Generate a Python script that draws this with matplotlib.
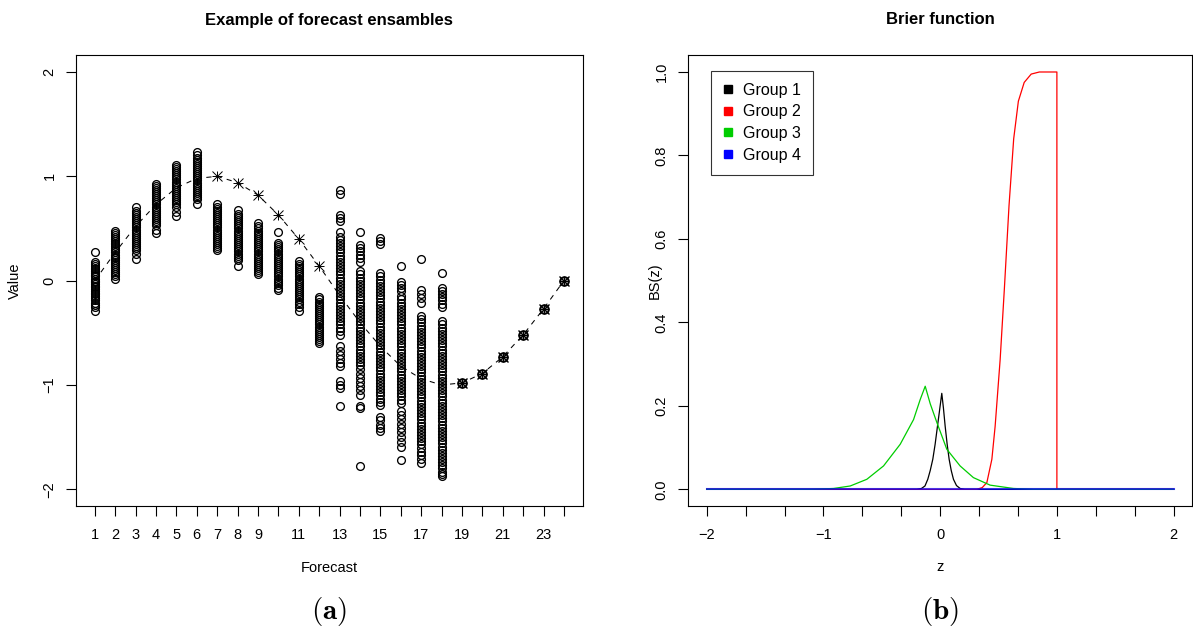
import matplotlib

matplotlib.use("Agg")
import matplotlib.pyplot as plt  # noqa: E402
from matplotlib.lines import Line2D  # noqa: E402

plt.rcParams.update(
    {
        "font.family": ["Liberation Sans", "DejaVu Sans"],
        "font.size": 10.5,
        "mathtext.fontset": "cm",
        "axes.linewidth": 0.8,
        "xtick.major.width": 0.8,
        "ytick.major.width": 0.8,
        "xtick.major.size": 7,
        "ytick.major.size": 7,
        "xtick.major.pad": 9,
        "ytick.major.pad": 7,
    }
)

# ---- panel (a): forecast ensembles ----
forecast = list(range(1, 25))
truth = [0.00, 0.27, 0.52, 0.73, 0.89, 0.98, 1.00, 0.94, 0.82, 0.63, 0.40, 0.14,
         -0.14, -0.40, -0.63, -0.82, -0.94, -1.00, -0.98, -0.89, -0.73, -0.52, -0.27, 0.00]
star_steps = [7, 8, 9, 10, 11, 12]
known_steps = [19, 20, 21, 22, 23, 24]

ens = [
    [0.27, 0.18, 0.16, 0.14, 0.12, 0.11, 0.09, 0.07, 0.05, 0.04, 0.02, 0.00, -0.01, -0.03,
     -0.05, -0.06, -0.08, -0.10, -0.12, -0.13, -0.15, -0.17, -0.19, -0.21, -0.23, -0.25, -0.29],
    [0.48, 0.46, 0.44, 0.42, 0.40, 0.38, 0.36, 0.35, 0.33, 0.31, 0.29, 0.27, 0.25, 0.23,
     0.22, 0.20, 0.18, 0.16, 0.14, 0.12, 0.10, 0.08, 0.06, 0.04, 0.02],
    [0.71, 0.67, 0.65, 0.63, 0.61, 0.59, 0.57, 0.55, 0.53, 0.51, 0.49, 0.47, 0.45, 0.43,
     0.41, 0.39, 0.37, 0.35, 0.33, 0.31, 0.29, 0.26, 0.21],
    [0.93, 0.91, 0.89, 0.87, 0.85, 0.83, 0.81, 0.79, 0.77, 0.75, 0.73, 0.71, 0.69, 0.67,
     0.65, 0.63, 0.61, 0.59, 0.57, 0.55, 0.53, 0.49, 0.46],
    [1.11, 1.09, 1.07, 1.05, 1.03, 1.01, 0.99, 0.97, 0.95, 0.93, 0.91, 0.89, 0.87, 0.85,
     0.83, 0.81, 0.79, 0.77, 0.75, 0.73, 0.71, 0.66, 0.62],
    [1.23, 1.20, 1.18, 1.16, 1.14, 1.12, 1.10, 1.08, 1.06, 1.04, 1.02, 1.00, 0.98, 0.96,
     0.94, 0.92, 0.90, 0.88, 0.86, 0.84, 0.82, 0.80, 0.78, 0.73],
    [0.73, 0.71, 0.69, 0.67, 0.65, 0.63, 0.61, 0.59, 0.57, 0.55, 0.53, 0.51, 0.49, 0.47,
     0.45, 0.43, 0.41, 0.39, 0.37, 0.35, 0.33, 0.31, 0.29],
    [0.68, 0.64, 0.62, 0.60, 0.58, 0.56, 0.54, 0.52, 0.50, 0.48, 0.46, 0.44, 0.42, 0.40,
     0.38, 0.36, 0.34, 0.32, 0.30, 0.28, 0.26, 0.24, 0.22, 0.20, 0.14],
    [0.55, 0.52, 0.50, 0.48, 0.46, 0.44, 0.42, 0.40, 0.38, 0.36, 0.34, 0.32, 0.30, 0.28,
     0.26, 0.24, 0.22, 0.20, 0.18, 0.16, 0.14, 0.12, 0.10, 0.08, 0.06],
    [0.47, 0.36, 0.34, 0.32, 0.30, 0.28, 0.26, 0.24, 0.22, 0.20, 0.18, 0.16, 0.14, 0.12,
     0.10, 0.08, 0.06, 0.04, 0.02, 0.00, -0.02, -0.04, -0.07, -0.09],
    [0.19, 0.16, 0.14, 0.12, 0.10, 0.08, 0.06, 0.04, 0.02, 0.00, -0.02, -0.04, -0.06, -0.08,
     -0.10, -0.12, -0.14, -0.16, -0.18, -0.20, -0.22, -0.25, -0.29],
    [-0.16, -0.18, -0.20, -0.22, -0.24, -0.26, -0.28, -0.30, -0.32, -0.34, -0.36, -0.38,
     -0.40, -0.42, -0.44, -0.46, -0.48, -0.50, -0.52, -0.54, -0.56, -0.58, -0.60],
    [0.87, 0.83, 0.63, 0.60, 0.57, 0.47, 0.42, 0.39, 0.36, 0.33, 0.30, 0.27, 0.24, 0.21,
     0.18, 0.15, 0.12, 0.09, 0.06, 0.03, 0.00, -0.03, -0.06, -0.09, -0.12, -0.15, -0.18,
     -0.21, -0.24, -0.27, -0.30, -0.33, -0.36, -0.39, -0.42, -0.45, -0.48, -0.52, -0.63,
     -0.67, -0.71, -0.75, -0.79, -0.82, -0.96, -1.00, -1.03, -1.20],
    [0.47, 0.34, 0.31, 0.28, 0.25, 0.22, 0.18, 0.09, 0.06, 0.03, 0.00, -0.03, -0.06, -0.09,
     -0.12, -0.15, -0.18, -0.21, -0.24, -0.27, -0.30, -0.33, -0.36, -0.39, -0.42, -0.45,
     -0.48, -0.51, -0.54, -0.57, -0.60, -0.63, -0.66, -0.69, -0.72, -0.75, -0.78, -0.81,
     -0.85, -0.89, -0.93, -0.97, -1.01, -1.05, -1.10, -1.20, -1.22, -1.78],
    [0.41, 0.38, 0.35, 0.07, 0.04, 0.01, -0.02, -0.05, -0.08, -0.11, -0.14, -0.17, -0.20,
     -0.23, -0.26, -0.29, -0.32, -0.35, -0.38, -0.41, -0.44, -0.47, -0.50, -0.53, -0.56,
     -0.59, -0.62, -0.65, -0.68, -0.71, -0.74, -0.77, -0.80, -0.83, -0.86, -0.89, -0.92,
     -0.95, -0.98, -1.01, -1.04, -1.07, -1.10, -1.13, -1.16, -1.19, -1.31, -1.34, -1.38,
     -1.41, -1.44],
    [0.14, -0.01, -0.04, -0.07, -0.10, -0.15, -0.18, -0.21, -0.24, -0.27, -0.30, -0.33,
     -0.36, -0.39, -0.42, -0.45, -0.48, -0.51, -0.54, -0.57, -0.60, -0.63, -0.66, -0.69,
     -0.72, -0.75, -0.78, -0.81, -0.84, -0.87, -0.90, -0.93, -0.96, -0.99, -1.02, -1.05,
     -1.08, -1.11, -1.14, -1.17, -1.25, -1.29, -1.33, -1.37, -1.41, -1.45, -1.50, -1.55,
     -1.59, -1.72],
    [0.21, -0.09, -0.13, -0.17, -0.21, -0.34, -0.37, -0.40, -0.43, -0.46, -0.49, -0.52,
     -0.55, -0.58, -0.61, -0.64, -0.67, -0.70, -0.73, -0.76, -0.79, -0.82, -0.85, -0.88,
     -0.91, -0.94, -0.97, -1.00, -1.03, -1.06, -1.09, -1.12, -1.15, -1.18, -1.21, -1.24,
     -1.27, -1.30, -1.33, -1.36, -1.39, -1.42, -1.45, -1.48, -1.51, -1.54, -1.57, -1.60,
     -1.64, -1.67, -1.71, -1.75],
    [0.07, -0.07, -0.10, -0.13, -0.16, -0.19, -0.22, -0.25, -0.39, -0.42, -0.45, -0.48,
     -0.51, -0.54, -0.57, -0.60, -0.63, -0.66, -0.69, -0.72, -0.75, -0.78, -0.81, -0.84,
     -0.87, -0.90, -0.93, -0.96, -0.99, -1.02, -1.05, -1.08, -1.11, -1.14, -1.17, -1.20,
     -1.23, -1.26, -1.29, -1.32, -1.35, -1.38, -1.41, -1.44, -1.47, -1.50, -1.53, -1.56,
     -1.59, -1.62, -1.65, -1.68, -1.71, -1.74, -1.77, -1.80, -1.83, -1.85, -1.87],
]

a_xticks = list(range(1, 25))
a_xlabels = ["1", "2", "3", "4", "5", "6", "7", "8", "9", "", "11", "", "13", "", "15", "",
             "17", "", "19", "", "21", "", "23", ""]
a_yticks = [-2, -1, 0, 1, 2]

# ---- panel (b): Brier function ----
g1_z = [-2.0, -0.20, -0.16, -0.13, -0.106, -0.085, -0.063, -0.043, -0.023, 0.0, 0.014,
        0.028, 0.043, 0.06, 0.077, 0.095, 0.114, 0.14, 0.171, 0.21, 2.0]
g1_bs = [0, 0, 0.002, 0.008, 0.024, 0.045, 0.072, 0.108, 0.151, 0.200, 0.230, 0.195,
         0.151, 0.108, 0.072, 0.045, 0.024, 0.009, 0.002, 0, 0]
g2_z = [-2.0, 0.314, 0.36, 0.40, 0.443, 0.471, 0.514, 0.55, 0.59, 0.63, 0.67, 0.72, 0.78,
        0.85, 1.0, 1.0, 2.0]
g2_bs = [0, 0, 0.004, 0.016, 0.072, 0.151, 0.311, 0.48, 0.68, 0.84, 0.93, 0.975, 0.995,
         1.0, 1.0, 0, 0]
g3_z = [-2.0, -1.1, -0.913, -0.77, -0.628, -0.485, -0.342, -0.228, -0.171, -0.128, -0.085,
        -0.028, 0.057, 0.171, 0.285, 0.428, 0.628, 0.8, 2.0]
g3_bs = [0, 0, 0.002, 0.008, 0.024, 0.056, 0.108, 0.167, 0.215, 0.247, 0.205, 0.160, 0.096,
         0.056, 0.028, 0.010, 0.002, 0, 0]
g4_z = [-2.0, 2.0]
g4_bs = [0, 0]
groups = ["Group 1", "Group 2", "Group 3", "Group 4"]
colors = ["black", "#ff0000", "#00cd00", "#0000ff"]
b_xticks = [-2 + k / 3 for k in range(13)]
b_xlabels = ["\u22122", "", "", "\u22121", "", "", "0", "", "", "1", "", "", "2"]
b_yticks = [0.0, 0.2, 0.4, 0.6, 0.8, 1.0]

W, H = 1193, 639
fig = plt.figure(figsize=(W / 100, H / 100), dpi=100)


def px(x0, y0, x1, y1):
    return [x0 / W, 1 - y1 / H, (x1 - x0) / W, (y1 - y0) / H]


ax = fig.add_axes(px(76, 55.3, 582.7, 506))
for f, vals in zip(forecast, ens):
    ax.plot([f] * len(vals), vals, ls="none", marker="o", ms=5.6, mfc="none", mec="black",
            mew=0.95)
ax.plot(forecast, truth, color="black", lw=0.75, dashes=(5, 5))
star_v = [truth[s - 1] for s in star_steps]
known_v = [truth[s - 1] for s in known_steps]
for m in ("+", "x"):
    ax.plot(star_steps, star_v, ls="none", marker=m, ms=6.5, mec="black", mew=0.7)
    ax.plot(known_steps, known_v, ls="none", marker=m, ms=6.5, mec="black", mew=1.0)
ax.plot(known_steps, known_v, ls="none", marker="o", ms=6.2, mfc="none", mec="black", mew=1.4)
ax.set_xlim(0.08, 24.92)
ax.set_ylim(-2.16, 2.16)
ax.set_xticks(a_xticks, labels=a_xlabels)
ax.set_yticks(a_yticks, labels=[str(v).replace("-", "\u2212") for v in a_yticks])
for lab in ax.get_yticklabels():
    lab.set_rotation(90)
    lab.set_va("center")

bx = fig.add_axes(px(688, 55.3, 1192.3, 506))
for z, bs, c in zip([g1_z, g2_z, g3_z], [g1_bs, g2_bs, g3_bs], colors[:3]):
    bx.plot(z, bs, color=c, lw=0.9)
bx.plot(g4_z, g4_bs, color=colors[3], lw=1.5, alpha=0.7)
bx.set_xlim(-2.16, 2.16)
bx.set_ylim(-0.04, 1.04)
bx.set_xticks(b_xticks, labels=b_xlabels)
bx.set_yticks(b_yticks, labels=[f"{v:.1f}" for v in b_yticks])
for lab in bx.get_yticklabels():
    lab.set_rotation(90)
    lab.set_va("center")
handles = [Line2D([], [], ls="none", marker="s", ms=6, mfc=c, mec=c) for c in colors]
leg = bx.legend(handles, groups, loc="upper left", bbox_to_anchor=(0.045, 0.966),
                fontsize=11.5, frameon=True, fancybox=False, edgecolor="black",
                handlelength=0.7, handletextpad=0.6, labelspacing=0.42, borderpad=0.75,
                borderaxespad=0)
leg.get_frame().set_linewidth(0.8)

for a in (ax, bx):
    for s in a.spines.values():
        s.set_linewidth(0.8)

fig.text(329 / W, 1 - 20 / H, "Example of forecast ensambles", ha="center", va="center",
         fontsize=12, fontweight="bold")
fig.text(940 / W, 1 - 20 / H, "Brier function", ha="center", va="center", fontsize=12,
         fontweight="bold")
fig.text(329 / W, 1 - 568 / H, "Forecast", ha="center", va="center")
fig.text(940 / W, 1 - 567 / H, "z", ha="center", va="center")
fig.text(15 / W, 1 - 281 / H, "Value", ha="center", va="center", rotation=90)
fig.text(655 / W, 1 - 281 / H, "BS(z)", ha="center", va="center", rotation=90)
fig.text(329 / W, 1 - 612 / H, r"$\mathbf{(a)}$", ha="center", va="center", fontsize=21)
fig.text(940 / W, 1 - 612 / H, r"$\mathbf{(b)}$", ha="center", va="center", fontsize=21)

fig.savefig("out.png", dpi=100)
